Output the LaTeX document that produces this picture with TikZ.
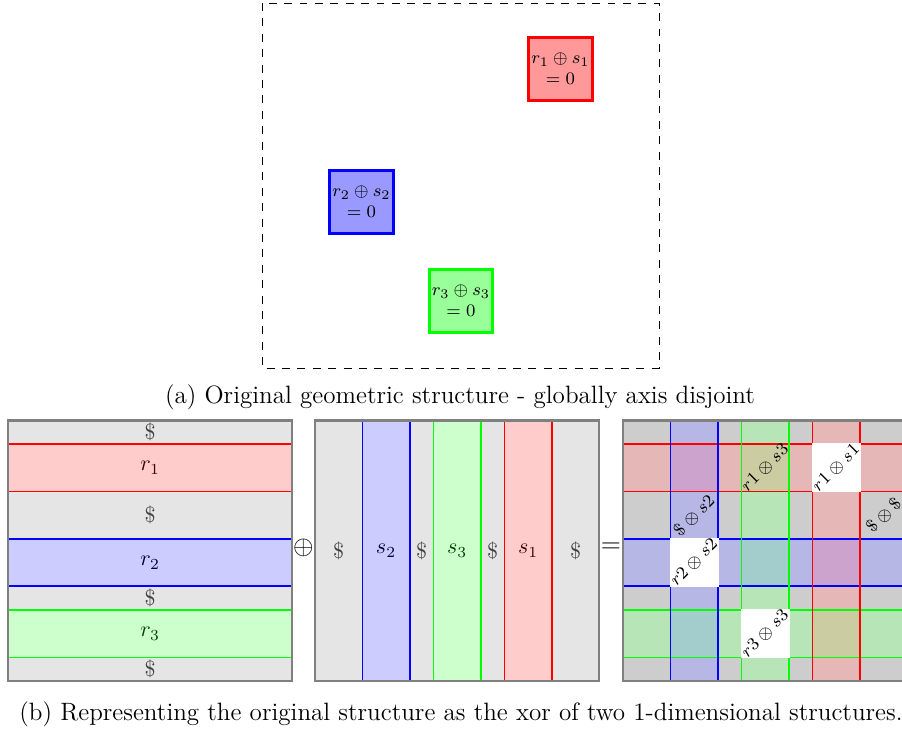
\documentclass[tikz,border=0pt]{standalone}

\begin{document}
\begin{tikzpicture}[
    x=0.4545pt, y=-0.4545pt,
    goal/.style={draw=#1, fill=#1!40, line width=1.3pt, minimum size=29pt,
      inner sep=0pt, align=center, font=\footnotesize},
    bandline/.style={draw=#1, line width=0.8pt},
    frame/.style={draw=gray, line width=1pt},
    cross/.style={rotate=45, inner sep=0pt, font=\footnotesize},
    dollar/.style={text=black!75},
    caption/.style={font=\fontsize{11.4pt}{13.5pt}\selectfont}
    ]
    \useasboundingbox (0,0) rectangle (902,733);

    % (a) the original structure
    \draw[dash pattern=on 3.6pt off 3.4pt] (262,3) rectangle (659,368);
    \node[goal=red]   (g1) at (560.5,69)  {$r_1 \oplus s_1$\\$= 0$};
    \node[goal=blue]  (g2) at (361.5,202) {$r_2 \oplus s_2$\\$= 0$};
    \node[goal=green] (g3) at (461,301)   {$r_3 \oplus s_3$\\$= 0$};
    \node[caption] (capa) at (460,397) {(a) Original geometric structure - globally axis disjoint};

    % (b) rows
    \begin{scope}[shift={(8,420.5)}, x=10.77pt, y=-10.77pt]
      \fill[gray!20] (0,0) rectangle (12,11);
      \foreach \c/\a/\b in {red/1/3, blue/5/7, green/8/10} {
        \fill[\c!20] (0,\a) rectangle (12,\b);
        \draw[bandline=\c] (0,\a) -- (12,\a) (0,\b) -- (12,\b);
      }
      \draw[frame] (0,0) rectangle (12,11);
      \foreach \y [count=\i] in {0.5,4,7.5,10.5}
        \node[dollar] (rd\i) at (6,\y) {\$};
      \node[text=red!25!black]   (r1) at (6,2) {$r_1$};
      \node[text=blue!25!black]  (r2) at (6,6) {$r_2$};
      \node[text=green!25!black] (r3) at (6,9) {$r_3$};
    \end{scope}

    \node[font=\large] (xor) at (303.5,548) {$\oplus$};

    % (b) columns
    \begin{scope}[shift={(315,420.5)}, x=10.77pt, y=-10.77pt]
      \fill[gray!20] (0,0) rectangle (12,11);
      \foreach \c/\a/\b in {blue/2/4, green/5/7, red/8/10} {
        \fill[\c!20] (\a,0) rectangle (\b,11);
        \draw[bandline=\c] (\a,0) -- (\a,11) (\b,0) -- (\b,11);
      }
      \draw[frame] (0,0) rectangle (12,11);
      \foreach \x [count=\i] in {1,4.5,7.5,11}
        \node[dollar] (sd\i) at (\x,5.5) {\$};
      \node[text=blue!25!black]  (s2) at (3,5.5) {$s_2$};
      \node[text=green!25!black] (s3) at (6,5.5) {$s_3$};
      \node[text=red!25!black]   (s1) at (9,5.5) {$s_1$};
    \end{scope}

    \node[font=\large] (eq) at (611,548) {$=$};

    % (b) product of both
    \begin{scope}[shift={(623,420.5)}, x=10.77pt, y=-10.77pt]
      \fill[gray!20] (0,0) rectangle (12,11);
      \foreach \c/\a/\b in {red/1/3, blue/5/7, green/8/10}
        \fill[\c!20] (0,\a) rectangle (12,\b);
      \begin{scope}[blend mode=multiply]
        \foreach \a/\b in {0/2, 4/5, 7/8, 10/12}
          \fill[gray!20] (\a,0) rectangle (\b,11);
        \foreach \c/\a/\b in {blue/2/4, green/5/7, red/8/10}
          \fill[\c!20] (\a,0) rectangle (\b,11);
      \end{scope}
      \foreach \c/\a/\b in {red/1/3, blue/5/7, green/8/10}
        \draw[bandline=\c] (0,\a) -- (12,\a) (0,\b) -- (12,\b);
      \foreach \c/\a/\b in {blue/2/4, green/5/7, red/8/10}
        \draw[bandline=\c] (\a,0) -- (\a,11) (\b,0) -- (\b,11);
      \draw[frame] (0,0) rectangle (12,11);
      \foreach \a/\b in {8/1, 2/5, 5/8}
        \filldraw[white, line width=0.8pt] (\a,\b) rectangle ++(2,2);
      \node[cross] (c11) at (9,2)  {$r1 \otimes s1$};
      \node[cross] (c13) at (6,2)  {$r1 \otimes s3$};
      \node[cross] (c02) at (3,4)  {$\$ \otimes s2$};
      \node[cross] (c22) at (3,6)  {$r2 \otimes s2$};
      \node[cross] (c00) at (11,4) {$\$ \otimes \$$};
      \node[cross] (c33) at (6,9)  {$r3 \otimes s3$};
    \end{scope}

    \node[caption] (capb) at (461,714) {(b) Representing the original structure as the xor of two 1-dimensional structures.};
\end{tikzpicture}
\end{document}
